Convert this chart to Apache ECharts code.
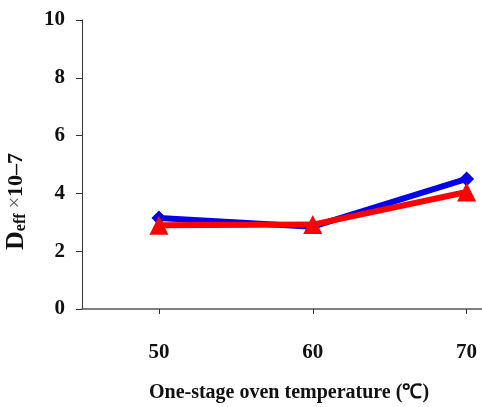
<!DOCTYPE html>
<html><head><meta charset="utf-8">
<script src="https://cdn.jsdelivr.net/npm/echarts@6/dist/echarts.min.js"></script>
<style>html,body{margin:0;padding:0;background:#fff}#c{width:482px;height:407px}</style>
</head><body><div id="c"></div>
<script>
const temps = [50, 60, 70];
const seriesBlue = [3.15, 2.85, 4.5];
const seriesRed = [2.9, 2.92, 4.05];
const yTicks = [0, 2, 4, 6, 8, 10];
const xTicks = [50, 60, 70];

const font = '"Liberation Serif", "Times New Roman", serif';
const chart = echarts.init(document.getElementById('c'));
chart.setOption({
  animation: false,
  grid: {left: 82, right: 0, top: 20, bottom: 98, outerBoundsMode: 'none', containLabel: false},
  xAxis: {
    type: 'value', min: 45, max: 71,
    name: 'One-stage oven temperature (℃)', nameLocation: 'middle', nameGap: 74,
    nameTextStyle: {fontFamily: font, fontWeight: 'bold', fontSize: 20, color: '#111', padding: [0, 0, 0, 14]},
    axisLine: {lineStyle: {color: '#555', width: 1.5}},
    axisTick: {show: true, length: 5, lineStyle: {color: '#333'}, customValues: xTicks},
    axisLabel: {customValues: xTicks, margin: 33, fontFamily: font, fontWeight: 'bold', fontSize: 21, color: '#111'},
    splitLine: {show: false}
  },
  yAxis: {
    type: 'value', min: 0, max: 10, interval: 2,
    name: '{D|D}{s|eff}{m| ×}{x|10–7}', nameLocation: 'middle', nameRotate: 90, nameGap: 53,
    nameTextStyle: {
      padding: [0, 74, 0, 0],
      rich: {
        D: {fontFamily: font, fontWeight: 'bold', fontSize: 26, color: '#111'},
        s: {fontFamily: font, fontWeight: 'bold', fontSize: 16, color: '#111', padding: [10, 0, 0, 0]},
        m: {fontFamily: font, fontWeight: 'normal', fontSize: 20, color: '#555'},
        x: {fontFamily: font, fontWeight: 'bold', fontSize: 22, color: '#111'}
      }
    },
    axisLine: {show: true, lineStyle: {color: '#333', width: 1}},
    axisTick: {show: true, length: 6, lineStyle: {color: '#333'}},
    axisLabel: {margin: 17, fontFamily: font, fontWeight: 'bold', fontSize: 21, color: '#111'},
    splitLine: {show: false}
  },
  series: [
    {type: 'line', data: temps.map((t, i) => [t, seriesBlue[i]]), symbol: 'diamond', symbolSize: 15,
     lineStyle: {color: '#0000ee', width: 6}, itemStyle: {color: '#0000ee'}, z: 2},
    {type: 'line', data: temps.map((t, i) => [t, seriesRed[i]]), symbol: 'triangle', symbolSize: 19,
     lineStyle: {color: '#ff0000', width: 6}, itemStyle: {color: '#ff0000'}, z: 3}
  ]
});
</script></body></html>
